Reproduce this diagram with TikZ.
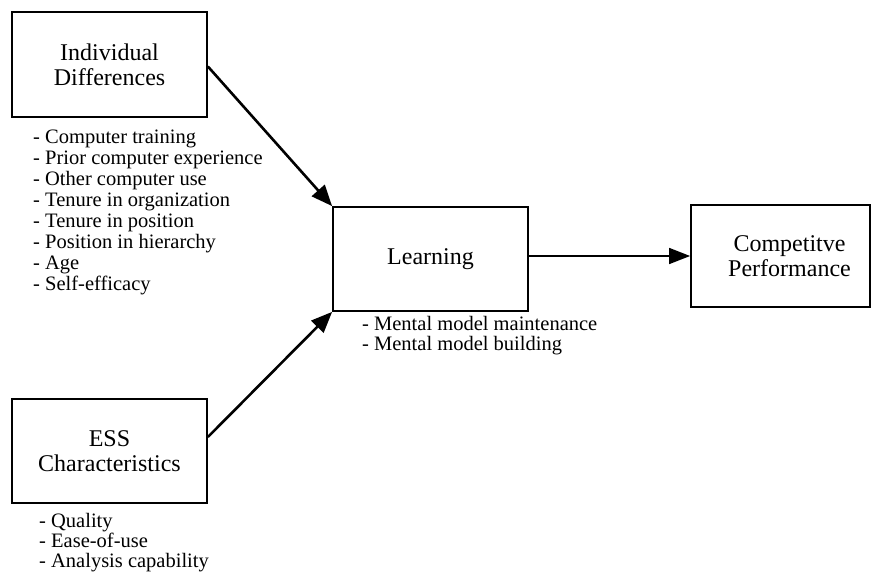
\documentclass[tikz,border=0pt]{standalone}
\usepackage{fontspec}
\setmainfont{Liberation Serif}
\usetikzlibrary{arrows.meta}
\begin{document}
\begin{tikzpicture}[x=1pt,y=-1pt,
  box/.style={draw, line width=1.8pt, rectangle, inner sep=0pt, align=center,
    font=\fontsize{24}{25}\selectfont},
  item/.style={anchor=base west, inner sep=0pt, font=\fontsize{20.5}{21}\selectfont},
  bigarrow/.style={line width=2.6pt, -{Triangle[length=21pt,width=17pt]}},
  thinarrow/.style={line width=1.6pt, -{Triangle[length=21pt,width=16pt]}}]
\useasboundingbox (0,0) rectangle (873,578);
\node[box, minimum width=195pt, minimum height=105pt] (id) at (109.5,64.5) {Individual\\Differences};
\node[box, minimum width=195pt, minimum height=104pt] (ess) at (109.5,451) {ESS\\Characteristics};
\node[box, minimum width=195pt, minimum height=104pt] (learn) at (430.5,259) {Learning};
\node[box, minimum width=179pt, minimum height=102pt] (perf) at (780.5,256) {\hspace*{18pt}Competitve\\\hspace*{18pt}Performance};
\foreach \t [count=\i from 0] in {- Computer training, - Prior computer experience, - Other computer use, - Tenure in organization, - Tenure in position, - Position in hierarchy, - Age, - Self-efficacy}
  \node[item] (idl\i) at (33,143+21*\i) {\t};
\foreach \t [count=\i from 0] in {- Quality, - Ease-of-use, - Analysis capability}
  \node[item] (essl\i) at (39,527+20*\i) {\t};
\foreach \t [count=\i from 0] in {- Mental model maintenance, - Mental model building}
  \node[item] (ml\i) at (362,330+20*\i) {\t};
\draw[bigarrow] ([yshift=-2pt]id.east) -- (learn.north west);
\draw[bigarrow] ([yshift=14pt]ess.east) -- (learn.south west);
\draw[thinarrow] ([yshift=3pt]learn.east) -- ([yshift=0pt]perf.west);
\end{tikzpicture}
\end{document}
